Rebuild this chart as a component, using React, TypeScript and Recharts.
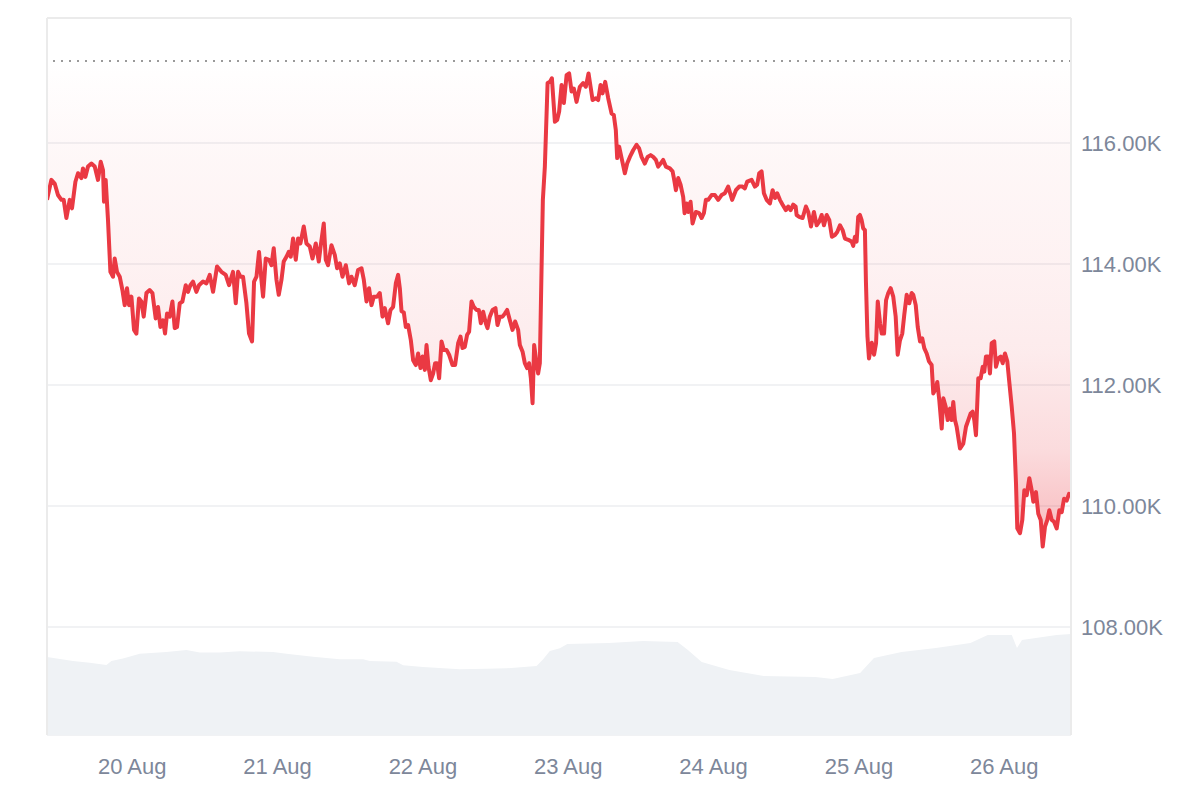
import React from "react";
import { ComposedChart, Area, XAxis, YAxis, CartesianGrid, ReferenceLine } from "recharts";

// x values are hours counted from 20 Aug 00:00
const dayTicks = [0, 24, 48, 72, 96, 120, 144];
const dayLabels = ["20 Aug", "21 Aug", "22 Aug", "23 Aug", "24 Aug", "25 Aug", "26 Aug"];
const priceTicks = [108, 110, 112, 114, 116];
const hourDomain = [-14.07, 155.02];
const priceDomain = [106.215, 118.066];
const volumeDomain = [0, 490];
const referencePriceK = 117.355;

const priceHours = [
  -14.07, -13.35, -12.8, -12.26, -11.69, -11.31, -10.87, -10.32, -9.94, -9.38, -8.95, -8.39, -8.13, -7.73, -7.3, -6.74,
  -6.19, -5.65, -5.2, -4.82, -4.66, -4.38, -4.0, -3.6, -3.17, -2.89, -2.51, -2.06, -1.62, -1.24, -0.86, -0.53, -0.13,
  0.3, 0.69, 1.12, 1.52, 1.9, 2.35, 2.89, 3.34, 3.88, 4.26, 4.66, 5.09, 5.42, 5.75, 6.19, 6.64, 7.02, 7.4, 7.85, 8.29,
  8.84, 9.22, 9.61, 10.04, 10.6, 11.03, 11.69, 12.26, 12.8, 13.35, 14.01, 14.73, 15.44, 15.99, 16.65, 17.1, 17.48,
  17.87, 18.3, 18.86, 19.29, 19.79, 20.12, 20.52, 20.94, 21.34, 21.61, 22.05, 22.6, 22.99, 23.37, 23.82, 24.2, 24.65,
  25.02, 25.47, 25.85, 26.18, 26.56, 27.01, 27.39, 27.78, 28.33, 28.77, 29.32, 29.77, 30.31, 30.81, 31.14, 31.63,
  31.96, 32.34, 32.9, 33.45, 33.83, 34.28, 34.72, 35.27, 35.81, 36.21, 36.75, 37.3, 37.86, 38.24, 38.69, 39.11, 39.51,
  39.89, 40.44, 40.88, 41.33, 41.71, 42.25, 42.65, 43.08, 43.53, 43.91, 44.19, 44.47, 44.85, 45.18, 45.56, 46.01,
  46.39, 46.83, 47.21, 47.61, 47.94, 48.32, 48.6, 48.93, 49.31, 49.69, 50.02, 50.35, 50.68, 51.08, 51.46, 51.9, 52.33,
  52.89, 53.32, 53.82, 54.21, 54.54, 54.92, 55.3, 55.63, 56.03, 56.41, 56.86, 57.24, 57.57, 57.95, 58.39, 58.67,
  59.05, 59.5, 59.99, 60.32, 60.7, 61.15, 61.53, 61.91, 62.36, 62.8, 63.23, 63.73, 64.01, 64.46, 64.83, 65.21, 65.54,
  65.83, 66.11, 66.37, 66.77, 67.03, 67.31, 67.59, 67.81, 68.14, 68.59, 68.97, 69.3, 69.8, 70.17, 70.5, 70.9, 71.28,
  71.73, 72.15, 72.55, 72.93, 73.37, 73.92, 74.46, 74.91, 75.35, 75.69, 76.02, 76.56, 76.94, 77.34, 77.67, 78.1, 78.6,
  79.15, 79.53, 79.86, 80.08, 80.41, 80.81, 81.35, 81.73, 82.18, 82.72, 83.28, 83.71, 84.11, 84.65, 85.1, 85.6, 86.03,
  86.47, 86.85, 87.25, 87.68, 88.12, 88.78, 89.23, 89.5, 89.78, 90.16, 90.55, 90.98, 91.21, 91.54, 91.81, 92.2, 92.53,
  93.08, 93.62, 94.02, 94.4, 94.73, 95.11, 95.67, 96.22, 96.76, 97.32, 97.87, 98.41, 99.07, 99.69, 100.23, 100.79,
  101.17, 101.55, 102.28, 102.82, 103.2, 103.53, 103.93, 104.31, 104.76, 105.3, 105.75, 106.13, 106.51, 106.95, 107.4,
  107.94, 108.32, 108.72, 109.15, 109.55, 109.71, 110.14, 110.7, 111.25, 111.63, 112.08, 112.57, 113.02, 113.45,
  113.85, 114.23, 114.67, 115.1, 115.54, 116.04, 116.42, 116.87, 117.31, 117.69, 118.24, 118.8, 119.06, 119.34,
  119.62, 119.88, 120.16, 120.44, 120.71, 120.99, 121.16, 121.41, 121.66, 122.12, 122.5, 122.83, 123.11, 123.49,
  123.77, 124.15, 124.48, 124.84, 125.24, 125.67, 126.07, 126.4, 126.78, 127.16, 127.49, 127.89, 128.32, 128.71,
  128.98, 129.38, 129.71, 130.09, 130.46, 130.79, 131.19, 131.57, 132.01, 132.28, 132.68, 132.94, 133.27, 133.67,
  133.94, 134.33, 134.66, 135.04, 135.32, 135.58, 135.86, 136.14, 136.69, 137.23, 137.68, 138.06, 138.45, 138.78,
  139.05, 139.33, 139.71, 140.1, 140.44, 140.7, 140.98, 141.36, 141.64, 141.92, 142.35, 142.63, 143.01, 143.41,
  143.74, 144.12, 144.5, 144.83, 145.23, 145.61, 145.94, 146.15, 146.6, 146.98, 147.31, 147.71, 148.14, 148.53,
  148.8, 149.24, 149.62, 150.02, 150.35, 150.73, 151.11, 151.44, 151.84, 152.22, 152.66, 153.09, 153.49, 153.87,
  154.31, 154.69, 155.02,
];

const priceK = [
  115.06, 115.39, 115.33, 115.14, 115.06, 115.06, 114.76, 115.06, 114.92, 115.36, 115.5, 115.42, 115.58, 115.44, 115.61,
  115.66, 115.61, 115.39, 115.69, 115.55, 115.03, 115.39, 114.73, 113.87, 113.79, 114.09, 113.87, 113.79, 113.57,
  113.32, 113.6, 113.32, 113.46, 112.91, 112.85, 113.43, 113.38, 113.13, 113.52, 113.57, 113.52, 113.1, 113.29, 112.96,
  113.07, 112.85, 113.18, 113.13, 113.38, 112.94, 112.96, 113.35, 113.38, 113.65, 113.54, 113.65, 113.71, 113.54,
  113.65, 113.71, 113.68, 113.82, 113.54, 113.96, 113.87, 113.82, 113.65, 113.87, 113.35, 113.87, 113.79, 113.79,
  113.35, 112.85, 112.72, 113.71, 113.79, 114.2, 113.74, 113.46, 114.09, 114.07, 113.98, 114.26, 113.74, 113.49,
  113.74, 114.04, 114.12, 114.2, 114.12, 114.42, 114.07, 114.42, 114.34, 114.62, 114.34, 114.29, 114.09, 114.34,
  114.04, 114.31, 114.67, 114.07, 113.98, 114.31, 114.15, 113.93, 114.01, 113.79, 113.98, 113.68, 113.79, 113.65,
  113.9, 113.93, 113.74, 113.38, 113.6, 113.32, 113.46, 113.46, 113.52, 113.13, 113.27, 113.02, 113.24, 113.29, 113.68,
  113.82, 113.6, 113.22, 113.2, 112.96, 112.99, 112.74, 112.41, 112.33, 112.52, 112.28, 112.47, 112.25, 112.66, 112.3,
  112.08, 112.19, 112.36, 112.36, 112.11, 112.72, 112.58, 112.58, 112.5, 112.33, 112.33, 112.69, 112.8, 112.61, 112.63,
  112.83, 112.88, 113.38, 113.29, 113.24, 113.24, 113.02, 113.21, 113.02, 112.94, 113.13, 113.24, 113.27, 112.99,
  113.13, 113.13, 113.18, 113.24, 113.07, 112.91, 113.05, 112.91, 112.66, 112.55, 112.36, 112.28, 112.36, 112.11,
  111.7, 112.66, 112.36, 112.19, 112.36, 113.9, 115.06, 115.61, 116.99, 117.01, 117.07, 116.35, 116.38, 116.52, 116.96,
  116.66, 117.12, 117.15, 116.85, 116.9, 116.68, 116.93, 116.99, 116.93, 117.15, 116.93, 116.71, 116.74, 116.71,
  116.96, 116.82, 117.01, 116.74, 116.49, 116.46, 116.21, 115.75, 115.94, 115.75, 115.5, 115.66, 115.77, 115.88,
  115.97, 115.91, 115.77, 115.66, 115.77, 115.8, 115.77, 115.72, 115.61, 115.66, 115.72, 115.61, 115.58, 115.53,
  115.39, 115.22, 115.42, 115.31, 115.11, 114.84, 115.0, 114.86, 115.03, 114.67, 114.86, 114.84, 114.76, 114.84,
  115.06, 115.06, 115.14, 115.14, 115.06, 115.14, 115.17, 115.28, 115.06, 115.22, 115.28, 115.28, 115.25, 115.36,
  115.39, 115.28, 115.31, 115.5, 115.53, 115.17, 115.06, 115.0, 115.22, 115.09, 115.17, 115.06, 114.98, 114.89,
  114.95, 114.89, 114.98, 114.95, 114.81, 114.78, 114.76, 114.95, 114.86, 114.62, 114.86, 114.64, 114.7, 114.81,
  114.64, 114.81, 114.73, 114.45, 114.48, 114.53, 114.64, 114.56, 114.42, 114.4, 114.37, 114.3, 114.45, 114.37,
  114.78, 114.81, 114.73, 114.59, 114.56, 113.7, 112.8, 112.44, 112.7, 112.5, 112.69, 113.38, 113.02, 112.85, 112.85,
  113.4, 113.52, 113.6, 113.46, 113.13, 112.5, 112.74, 112.85, 113.16, 113.49, 113.35, 113.52, 113.49, 113.32, 112.96,
  112.72, 112.77, 112.61, 112.52, 112.39, 112.33, 111.86, 111.94, 112.05, 111.75, 111.28, 111.78, 111.64, 111.42,
  111.61, 111.42, 111.72, 111.42, 111.31, 110.95, 111.03, 111.31, 111.42, 111.53, 111.56, 111.42, 111.17, 112.11,
  112.11, 112.3, 112.22, 112.47, 112.47, 112.19, 112.69, 112.72, 112.3, 112.44, 112.47, 112.36, 112.52, 112.39, 112.05,
  111.64, 111.2, 110.37, 109.63, 109.55, 109.77, 110.26, 110.18, 110.46, 110.26, 110.07, 110.23, 109.87, 109.77, 109.33,
  109.66, 109.77, 109.93, 109.77, 109.74, 109.63, 109.93, 109.9, 110.12, 110.09, 110.2, 110.17,
];

const volumeHours = [
  -14.07, -9.78, -7.02, -4.26, -3.44, -1.52, 1.24, 5.65, 8.95, 11.15, 14.45, 17.76, 23.26, 25.47, 29.86, 34.27, 38.12,
  39.23, 43.64, 44.73, 48.03, 54.1, 58.51, 61.81, 66.77, 67.86, 68.96, 70.61, 71.85, 78.69, 84.37, 90.06, 91.76, 94.04,
  98.6, 104.28, 112.82, 115.66, 120.2, 122.48, 127.04, 132.72, 138.41, 141.27, 145.24, 146.1, 146.93, 152.63, 155.02,
];
const volumeB = [
  53.3, 50.6, 49.4, 47.8, 50.6, 52.2, 55.6, 56.7, 58.1, 56.3, 56.3, 57.2, 56.7, 55.6, 53.5, 51.7, 51.7, 50.6, 50.1,
  47.6, 46.5, 44.9, 45.3, 45.6, 47.2, 51.7, 57.4, 59.3, 62.2, 62.9, 64.2, 63.6, 58.1, 49.9, 44.4, 40.3, 39.6, 38.3,
  42.4, 52.6, 56.7, 59.5, 62.9, 68.3, 68.3, 59.5, 64.9, 68.3, 69.0,
];

function buildRows() {
  const map = new Map<number, { h: number; price?: number; vol?: number }>();
  priceHours.forEach((h, i) => {
    const r = map.get(h) || { h };
    r.price = priceK[i];
    map.set(h, r);
  });
  volumeHours.forEach((h, i) => {
    const r = map.get(h) || { h };
    r.vol = volumeB[i];
    map.set(h, r);
  });
  return Array.from(map.values()).sort((a, b) => a.h - b.h);
}

const rows = buildRows();
const FONT = "'Liberation Sans', Arial, Helvetica, sans-serif";
const TICK_COLOR = "#7d879a";
const BORDER = "#ebebeb";

export default function App() {
  return (
    <div style={{ position: "absolute", left: 0, top: 0, width: 1200, height: 800, background: "#ffffff" }}>
      <ComposedChart width={1200} height={800} data={rows} margin={{ top: 18, right: 9, bottom: 15, left: 47 }}>
        <defs>
          <linearGradient id="priceFill" x1="0" y1="0" x2="0" y2="1">
            <stop offset="0" stopColor="#ea3943" stopOpacity={0} />
            <stop offset="0.2" stopColor="#ea3943" stopOpacity={0.04} />
            <stop offset="0.4" stopColor="#ea3943" stopOpacity={0.065} />
            <stop offset="0.6" stopColor="#ea3943" stopOpacity={0.1} />
            <stop offset="0.8" stopColor="#ea3943" stopOpacity={0.18} />
            <stop offset="0.9" stopColor="#ea3943" stopOpacity={0.27} />
            <stop offset="1" stopColor="#ea3943" stopOpacity={0.34} />
          </linearGradient>
        </defs>
        <CartesianGrid yAxisId="price" vertical={false} stroke="#eceef1" strokeWidth={1.5} />
        <XAxis
          dataKey="h"
          type="number"
          domain={hourDomain}
          allowDataOverflow
          ticks={dayTicks}
          interval={0}
          tickFormatter={(v: number) => dayLabels[dayTicks.indexOf(v)]}
          axisLine={false}
          tickLine={false}
          tickSize={0}
          tickMargin={23}
          height={50}
          tick={{ fill: TICK_COLOR, fontSize: 22, fontFamily: FONT }}
        />
        <YAxis
          yAxisId="price"
          orientation="right"
          width={120}
          domain={priceDomain}
          allowDataOverflow
          ticks={priceTicks}
          interval={0}
          tickFormatter={(v: number) => v.toFixed(2) + "K"}
          axisLine={false}
          tickLine={false}
          tickSize={0}
          tickMargin={10}
          tick={{ fill: TICK_COLOR, fontSize: 22, fontFamily: FONT, textAnchor: "start" }}
        />
        <YAxis yAxisId="vol" hide domain={volumeDomain} />
        <Area
          yAxisId="vol"
          type="linear"
          dataKey="vol"
          stroke="none"
          fill="#eff2f5"
          fillOpacity={1}
          connectNulls
          isAnimationActive={false}
          dot={false}
          activeDot={false}
        />
        <Area
          yAxisId="price"
          type="linear"
          dataKey="price"
          baseValue={referencePriceK}
          stroke="#ea3943"
          strokeWidth={4}
          strokeLinejoin="round"
          fill="url(#priceFill)"
          fillOpacity={1}
          connectNulls
          isAnimationActive={false}
          dot={false}
          activeDot={false}
        />
        <ReferenceLine yAxisId="price" y={referencePriceK} stroke="#9a9a9a" strokeWidth={2} strokeDasharray="2 6" />
        <ReferenceLine yAxisId="price" y={priceDomain[1]} stroke={BORDER} strokeWidth={2} />
        <ReferenceLine yAxisId="price" x={hourDomain[0]} stroke={BORDER} strokeWidth={2} />
        <ReferenceLine yAxisId="price" x={hourDomain[1]} stroke={BORDER} strokeWidth={2} />
      </ComposedChart>
    </div>
  );
}
